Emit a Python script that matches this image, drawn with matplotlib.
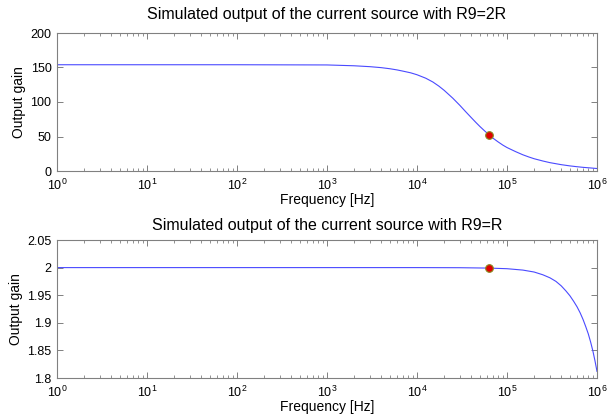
import matplotlib
matplotlib.use("Agg")
import matplotlib.pyplot as plt
from matplotlib.ticker import LogLocator, NullFormatter

plt.rcParams['font.family'] = ['Liberation Sans', 'DejaVu Sans']
plt.rcParams['mathtext.default'] = 'regular'

# Top plot: R9 = 2R
freq_top = [1, 10, 100, 1000, 2000, 3000, 4000, 5000, 6000, 7000, 8500, 1e4, 1.25e4,
            1.5e4, 1.75e4, 2e4, 2.5e4, 3e4, 3.5e4, 4e4, 4.5e4, 5e4, 5.6e4, 6.3e4,
            7e4, 8e4, 9e4, 1e5, 1.25e5, 1.5e5, 1.75e5, 2e5, 2.5e5, 3e5, 4e5, 5e5,
            6e5, 7e5, 8.5e5, 1e6]
gain_top = [154, 154, 154, 153.7, 152.5, 151.2, 149.8, 148.2, 146.5, 144.7, 142.3, 139.5,
            134.5, 129, 123, 117, 105.5, 95, 85.5, 77.5, 70.5, 64.5, 58.5, 52.5,
            47.5, 42, 37.5, 34, 28, 23.5, 20.3, 17.8, 14.5, 12.1, 9.2, 7.4,
            6.2, 5.3, 4.4, 3.6]
marker_top = (6.3e4, 52.5)

# Bottom plot: R9 = R
freq_bot = [1, 10, 100, 1000, 1e4, 3e4, 6.3e4, 1e5, 1.5e5, 2e5, 2.5e5, 3e5, 3.5e5,
            4e5, 4.5e5, 5e5, 5.5e5, 6e5, 6.5e5, 7e5, 7.5e5, 8e5, 8.5e5, 9e5, 9.5e5, 1e6]
gain_bot = [2.0, 2.0, 2.0, 2.0, 2.0, 1.9998, 1.9991, 1.998, 1.9955, 1.992, 1.987, 1.9815,
            1.975, 1.967, 1.958, 1.949, 1.939, 1.929, 1.918, 1.906, 1.893, 1.880,
            1.865, 1.849, 1.831, 1.812]
marker_bot = (6.3e4, 1.9991)

titles = ["Simulated output of the current source with R9=2R",
          "Simulated output of the current source with R9=R"]
yticks_top = [0, 50, 100, 150, 200]
ytick_labels_top = ["0", "50", "100", "150", "200"]
yticks_bot = [1.8, 1.85, 1.9, 1.95, 2.0, 2.05]
ytick_labels_bot = ["1.8", "1.85", "1.9", "1.95", "2", "2.05"]
xticks = [1, 10, 100, 1e3, 1e4, 1e5, 1e6]
xtick_labels = [r"$10^{%d}$" % i for i in range(7)]

fig = plt.figure(figsize=(6.14, 4.16), dpi=100)
ax1 = fig.add_axes([57/614, 1-171/416, 540/614, 138/416])
ax2 = fig.add_axes([57/614, 1-378/416, 540/614, 138/416])

spine_c = '#808080'
for ax, fx, gy, mk, title, yt, ytl, ylim in [
        (ax1, freq_top, gain_top, marker_top, titles[0], yticks_top, ytick_labels_top, (0, 200)),
        (ax2, freq_bot, gain_bot, marker_bot, titles[1], yticks_bot, ytick_labels_bot, (1.8, 2.05))]:
    ax.semilogx(fx, gy, color='#4a4aff', lw=0.8)
    ax.plot([mk[0]], [mk[1]], 'o', color='#e00000', markeredgecolor='#8a8a20',
            markersize=5.5, markeredgewidth=0.8)
    ax.set_xlim(1, 1e6)
    ax.set_ylim(*ylim)
    ax.set_xticks(xticks)
    ax.set_xticklabels(xtick_labels)
    ax.xaxis.set_minor_locator(LogLocator(base=10, subs=range(2, 10), numticks=20))
    ax.xaxis.set_minor_formatter(NullFormatter())
    ax.set_yticks(yt)
    ax.set_yticklabels(ytl)
    ax.tick_params(which='both', direction='in', top=True, right=True,
                   color=spine_c, labelsize=9)
    ax.tick_params(axis='x', pad=5)
    ax.tick_params(axis='y', pad=4)
    ax.tick_params(which='major', length=4, width=0.7)
    ax.tick_params(which='minor', length=2.5, width=0.6)
    for s in ax.spines.values():
        s.set_color(spine_c)
        s.set_linewidth(0.8)
    ax.set_xlabel("Frequency [Hz]", fontsize=10, labelpad=0)
    ax.set_ylabel("Output gain", fontsize=10, labelpad=3)

ax1.set_title(titles[0], fontsize=11.5, pad=10)
ax2.set_title(titles[1], fontsize=11.5, pad=7)

fig.savefig("out.png", dpi=100)
